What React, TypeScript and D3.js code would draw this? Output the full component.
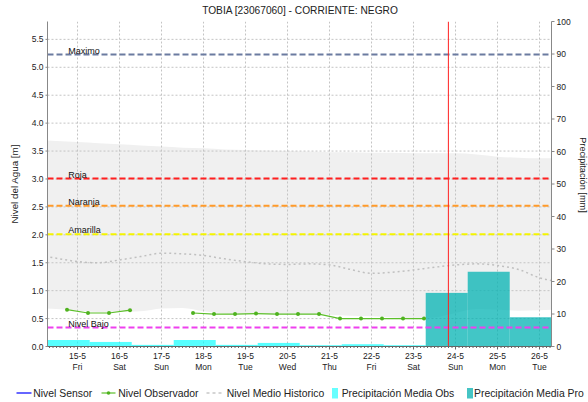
import React from 'react';
import * as d3 from 'd3';

// ---------- data ----------
const title = 'TOBIA [23067060] - CORRIENTE: NEGRO';
const xStart = 14.285;
const xEnd = 26.285;
const tickDays = [15, 16, 17, 18, 19, 20, 21, 22, 23, 24, 25, 26];
const tickDates = ['15-5', '16-5', '17-5', '18-5', '19-5', '20-5', '21-5', '22-5', '23-5', '24-5', '25-5', '26-5'];
const tickWeekdays = ['Fri', 'Sat', 'Sun', 'Mon', 'Tue', 'Wed', 'Thu', 'Fri', 'Sat', 'Sun', 'Mon', 'Tue'];
const levelTicks = [0, 0.5, 1, 1.5, 2, 2.5, 3, 3.5, 4, 4.5, 5, 5.5];
const precipTicks = [0, 10, 20, 30, 40, 50, 60, 70, 80, 90, 100];

const obsTimes = [14.75, 15.25, 15.75, 16.25, 16.75, 17.25, 17.75, 18.25, 18.75, 19.25, 19.75, 20.25, 20.75, 21.25, 21.75, 22.25, 22.75, 23.25];
const obsLevel: (number | null)[] = [0.66, 0.6, 0.6, 0.65, null, null, 0.6, 0.58, 0.58, 0.59, 0.58, 0.58, 0.58, 0.5, 0.5, 0.5, 0.5, 0.5];

const histTimes = [14, 14.5, 15, 15.5, 16, 16.5, 17, 17.5, 18, 18.5, 19, 19.5, 20, 20.5, 21, 21.5, 22, 22.5, 23, 23.5, 24, 24.5, 25, 25.5, 26, 26.5];
const histMean = [1.64, 1.58, 1.52, 1.5, 1.55, 1.61, 1.67, 1.66, 1.63, 1.57, 1.52, 1.48, 1.47, 1.48, 1.46, 1.38, 1.31, 1.33, 1.37, 1.42, 1.46, 1.48, 1.45, 1.38, 1.23, 1.16];
const histUpper = [3.7, 3.68, 3.66, 3.64, 3.62, 3.6, 3.58, 3.56, 3.55, 3.53, 3.52, 3.51, 3.5, 3.49, 3.48, 3.48, 3.47, 3.47, 3.46, 3.46, 3.46, 3.44, 3.4, 3.38, 3.37, 3.37];
const histLower = [0.69, 0.67, 0.64, 0.62, 0.62, 0.63, 0.68, 0.69, 0.63, 0.59, 0.58, 0.58, 0.58, 0.58, 0.57, 0.55, 0.54, 0.52, 0.5, 0.52, 0.6, 0.67, 0.66, 0.64, 0.65, 0.66];

const obsPrecipDays = [13, 14, 15, 16, 17, 18, 19, 20, 21, 22];
const obsPrecip = [3.0, 2.0, 1.4, 0.5, 2.0, 0.5, 1.1, 0.4, 0.7, 0.4];
const proPrecipDays = [23, 24, 25];
const proPrecip = [16.5, 23.0, 9.0];

const thresholdNames = ['Maximo', 'Roja', 'Naranja', 'Amarilla', 'Nivel Bajo'];
const thresholdValues = [5.23, 3.01, 2.52, 2.01, 0.34];
const thresholdColors = ['#6b7ba0', '#ff1f1f', '#ff9a2a', '#f4f400', '#ee40ee'];

const nowTime = 23.83;

const legendLabels = ['Nivel Sensor', 'Nivel Observador', 'Nivel Medio Historico', 'Precipitación Media Obs', 'Precipitación Media Pro'];

// ---------- layout ----------
const W = 588;
const H = 402;
const L = 47.5, R = 551.5, T = 21.5, B = 346.5;
const FONT = 'Liberation Sans, Arial, sans-serif';
const barStartOffset = 0.29;

export default function App() {
  const x = d3.scaleLinear().domain([xStart, xEnd]).range([L, R]);
  const yL = d3.scaleLinear().domain([0, 5.82]).range([B, T]);
  const yR = d3.scaleLinear().domain([0, 100]).range([B, T]);

  const band = d3.area<number>()
    .x((i) => x(histTimes[i]))
    .y0((i) => yL(histLower[i]))
    .y1((i) => yL(histUpper[i]))
    .curve(d3.curveMonotoneX);
  const meanLine = d3.line<number>()
    .x((i) => x(histTimes[i]))
    .y((i) => yL(histMean[i]))
    .curve(d3.curveMonotoneX);
  const obsLine = d3.line<number>()
    .defined((i) => obsLevel[i] != null)
    .x((i) => x(obsTimes[i]))
    .y((i) => yL(obsLevel[i] as number));
  const idxH = histTimes.map((_, i) => i);
  const idxO = obsTimes.map((_, i) => i);

  const minorTicks = d3.range(Math.ceil(xStart * 12), Math.floor(xEnd * 12) + 1).map((k) => k / 12);

  const legendX = [16.5, 101.5, 206.5, 332, 467];
  const legendTextX = [33.3, 118.3, 226.7, 341.7, 474];
  const ly = 393;

  return (
    <svg width={W} height={H} style={{ position: 'absolute', left: 0, top: 0, background: '#fff' }} fontFamily={FONT}>
      <defs>
        <clipPath id="plot">
          <rect x={L} y={T} width={R - L} height={B - T} />
        </clipPath>
      </defs>
      <text x={300} y={14} textAnchor="middle" fontSize={10.2} fill="#222">{title}</text>

      <g clipPath="url(#plot)">
        <path d={band(idxH) || ''} fill="#f0f0f0" />
        {levelTicks.filter((v) => v > 0).map((v) => (
          <line key={'h' + v} x1={L} x2={R} y1={yL(v)} y2={yL(v)} stroke="#c4c4c4" strokeDasharray="2,2" />
        ))}
        {tickDays.map((d) => (
          <line key={'v' + d} x1={x(d)} x2={x(d)} y1={T} y2={B} stroke="#c4c4c4" strokeDasharray="2,2" />
        ))}
        {obsPrecipDays.map((d, i) => (
          <rect key={'ob' + d} x={x(d + barStartOffset)} width={x(d + 1 + barStartOffset) - x(d + barStartOffset)}
            y={yR(obsPrecip[i])} height={B - yR(obsPrecip[i])} fill="rgb(0,255,255)" fillOpacity={0.66} />
        ))}
        {proPrecipDays.map((d, i) => (
          <rect key={'pb' + d} x={x(d + barStartOffset)} width={x(d + 1 + barStartOffset) - x(d + barStartOffset)}
            y={yR(proPrecip[i])} height={B - yR(proPrecip[i])} fill="rgb(3,179,179)" fillOpacity={0.75} />
        ))}
        <path d={meanLine(idxH) || ''} fill="none" stroke="#c0c0c0" strokeWidth={1.5} strokeDasharray="2,3" />
        {thresholdValues.map((v, i) => (
          <g key={'t' + i}>
            <line x1={L} x2={R} y1={yL(v)} y2={yL(v)} stroke={thresholdColors[i]} strokeWidth={2} strokeDasharray="6,3" />
            <text x={68.3} y={yL(v) - 0.8} fontSize={9} fill="#111">{thresholdNames[i]}</text>
          </g>
        ))}
        <path d={obsLine(idxO) || ''} fill="none" stroke="#5cbf2a" strokeWidth={1.2} />
        {idxO.filter((i) => obsLevel[i] != null).map((i) => (
          <circle key={'p' + i} cx={x(obsTimes[i])} cy={yL(obsLevel[i] as number)} r={2} fill="#4fb21f" />
        ))}
        <line x1={x(nowTime)} x2={x(nowTime)} y1={T} y2={B} stroke="#ff2020" strokeWidth={1} />
      </g>

      {/* left axis */}
      <line x1={L} x2={L} y1={T} y2={B} stroke="#888" />
      {levelTicks.map((v) => (
        <g key={'lt' + v}>
          <line x1={L - 2} x2={L} y1={yL(v)} y2={yL(v)} stroke="#888" />
          <text x={L - 4} y={yL(v) + 3} textAnchor="end" fontSize={8.5} fill="#222">{v.toFixed(1)}</text>
        </g>
      ))}
      <text transform={`translate(18,184) rotate(-90)`} textAnchor="middle" fontSize={9.8} fill="#222">Nivel del Agua [m]</text>

      {/* right axis */}
      <line x1={R} x2={R} y1={T} y2={B} stroke="#888" />
      {precipTicks.map((v) => (
        <g key={'rt' + v}>
          <line x1={R} x2={R + 3} y1={yR(v)} y2={yR(v)} stroke="#888" />
          <text x={R + 5} y={yR(v) + 3} textAnchor="start" fontSize={8.5} fill="#222">{v}</text>
        </g>
      ))}
      <text transform={`translate(580,175) rotate(90)`} textAnchor="middle" fontSize={9.2} fill="#222">Precipitación [mm]</text>

      {/* bottom axis */}
      <line x1={L} x2={R} y1={B} y2={B} stroke="#666" />
      {minorTicks.map((t) => (
        <line key={'m' + t} x1={x(t)} x2={x(t)} y1={B} y2={B + 1.5} stroke="#666" />
      ))}
      {tickDays.map((d, i) => (
        <g key={'bt' + d}>
          <line x1={x(d)} x2={x(d)} y1={B} y2={B + 3} stroke="#666" />
          <text x={x(d)} y={358.5} textAnchor="middle" fontSize={8.5} fill="#222">{tickDates[i]}</text>
          <text x={x(d)} y={370} textAnchor="middle" fontSize={8.5} fill="#222">{tickWeekdays[i]}</text>
        </g>
      ))}

      {/* legend */}
      <g fontSize={10.4} fill="#222">
        <line x1={legendX[0]} x2={legendX[0] + 15} y1={ly} y2={ly} stroke="#0000ff" strokeWidth={1.2} />
        <text x={legendTextX[0]} y={ly + 3.6}>{legendLabels[0]}</text>
        <line x1={legendX[1]} x2={legendX[1] + 14} y1={ly} y2={ly} stroke="#5cbf2a" strokeWidth={1.2} />
        <circle cx={legendX[1] + 7} cy={ly} r={1.8} fill="#4fb21f" />
        <text x={legendTextX[1]} y={ly + 3.6}>{legendLabels[1]}</text>
        <line x1={legendX[2]} x2={legendX[2] + 15} y1={ly} y2={ly} stroke="#c8c8c8" strokeWidth={1.5} strokeDasharray="3,3" />
        <text x={legendTextX[2]} y={ly + 3.6}>{legendLabels[2]}</text>
        <rect x={legendX[3]} y={ly - 5} width={6} height={10.5} fill="#66ffff" />
        <text x={legendTextX[3]} y={ly + 3.6}>{legendLabels[3]}</text>
        <rect x={legendX[4]} y={ly - 5} width={6} height={10.5} fill="#45c4c4" />
        <text x={legendTextX[4]} y={ly + 3.6}>{legendLabels[4]}</text>
      </g>
    </svg>
  );
}
